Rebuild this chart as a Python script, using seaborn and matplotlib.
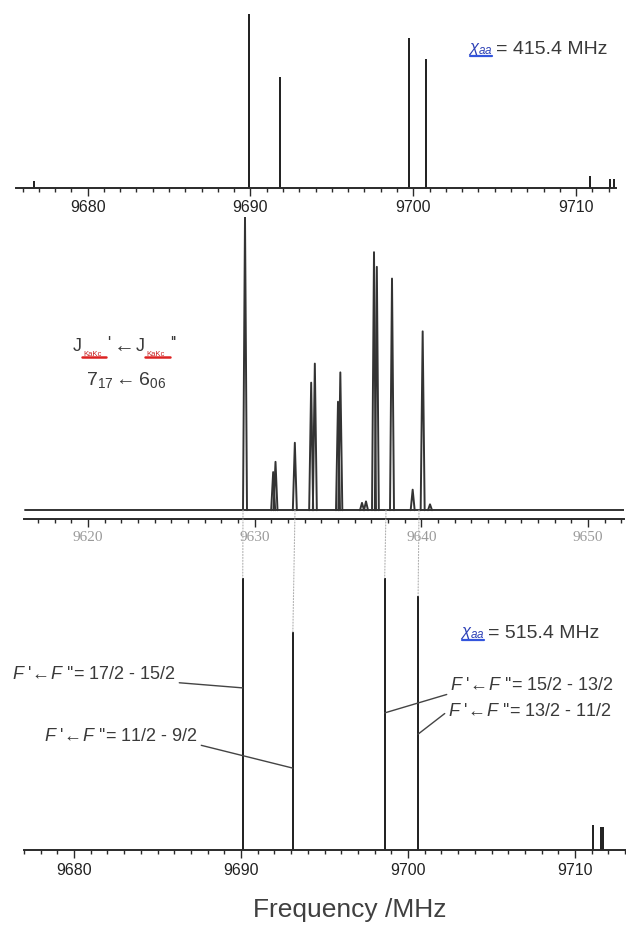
import pandas as pd
import matplotlib
matplotlib.use("Agg")
import matplotlib.pyplot as plt
import seaborn as sns
from matplotlib.patches import ConnectionPatch
from matplotlib.lines import Line2D

# simulated sticks, chi_aa = 415.4 MHz
top_freq = [9676.7, 9689.93, 9691.79, 9699.74, 9700.8, 9710.86, 9712.09, 9712.33]
top_int = [0.04, 1.0, 0.64, 0.86, 0.74, 0.07, 0.05, 0.05]
top_ticks = [9680, 9690, 9700, 9710]

# experimental trace (peak centres / heights)
mid_freq = [9629.42, 9631.11, 9631.25, 9632.41, 9633.39, 9633.61, 9635.0, 9635.14,
            9636.44, 9636.68, 9637.16, 9637.33, 9638.24, 9639.48, 9640.08, 9640.52]
mid_int = [1.0, 0.13, 0.165, 0.23, 0.435, 0.50, 0.37, 0.47,
           0.025, 0.03, 0.88, 0.83, 0.79, 0.07, 0.61, 0.02]
mid_ticks = [9620, 9630, 9640, 9650]

# simulated sticks, chi_aa = 515.4 MHz
bot_freq = [9690.1, 9693.1, 9698.6, 9700.6, 9711.1, 9711.55, 9711.7]
bot_int = [1.0, 0.80, 1.0, 0.934, 0.092, 0.085, 0.085]
bot_ticks = [9680, 9690, 9700, 9710]

# assigned components: (index in bot_freq, label)
assign_idx = [0, 1, 2, 3]
assign_labels = [r"$F$ '$\!\leftarrow\!F$ ''= 17/2 - 15/2",
                 r"$F$ '$\!\leftarrow\!F$ ''= 11/2 - 9/2",
                 r"$F$ '$\!\leftarrow\!F$ ''= 15/2 - 13/2",
                 r"$F$ '$\!\leftarrow\!F$ ''= 13/2 - 11/2"]
# matching positions on the experimental trace
link_mid = [9629.30, 9632.42, 9637.88, 9639.86]

sns.set_theme(style="white")
plt.rcParams["font.family"] = ["Liberation Sans", "DejaVu Sans"]
plt.rcParams["mathtext.fontset"] = "custom"
plt.rcParams["mathtext.rm"] = "Liberation Sans"
plt.rcParams["mathtext.it"] = "Liberation Sans:italic"

W, H = 626, 928
fig = plt.figure(figsize=(W / 100, H / 100), dpi=100)
grey = "#3a3a3a"


def box(x0, y0, x1, y1):
    return [x0 / W, 1 - y1 / H, (x1 - x0) / W, (y1 - y0) / H]


def put(x, y, s, **kw):
    kw.setdefault("color", grey)
    return fig.text(x / W, 1 - y / H, s, **kw)


def hline(x0, x1, y, **kw):
    fig.add_artist(Line2D([x0 / W, x1 / W], [1 - y / H, 1 - y / H],
                          transform=fig.transFigure, **kw))


def style_axis(ax, ticks, labels, **labelkw):
    sns.despine(ax=ax, left=True, top=True, right=True)
    ax.set_facecolor("none")
    ax.spines["bottom"].set_color("#2a2a2a")
    ax.spines["bottom"].set_linewidth(1.4)
    ax.set_yticks([])
    ax.set_xticks(ticks)
    ax.set_xticklabels(labels, **labelkw)
    ax.xaxis.set_minor_locator(matplotlib.ticker.MultipleLocator(1))
    ax.tick_params(axis="x", which="major", bottom=True, direction="out",
                   length=6, width=1, color="#2a2a2a", pad=2)
    ax.tick_params(axis="x", which="minor", bottom=True, direction="out",
                   length=3, width=1, color="#2a2a2a")
    ax.set_xlabel("")
    ax.set_ylabel("")


# top panel
ax_top = fig.add_axes(box(16, 15, 616, 189))
ax_top.vlines(top_freq, 0, top_int, color="#1e1e1e", lw=1.4)
ax_top.set_xlim(9675.6, 9712.45)
ax_top.set_ylim(0, 1)
style_axis(ax_top, top_ticks, [str(t) for t in top_ticks], fontsize=11.5, color="#222222")

# middle panel: experimental spectrum
half = 0.12
rows = [(9616.2, 0.0, -1), (9652.2, 0.0, -1)]
for k, (f, h) in enumerate(zip(mid_freq, mid_int)):
    rows += [(f - half, 0.0, k), (f, h, k), (f + half, 0.0, k)]
trace = pd.DataFrame(rows, columns=["freq", "intensity", "peak"])

ax_mid = fig.add_axes(box(24, 218, 624, 520))
sns.lineplot(data=trace, x="freq", y="intensity", units="peak", estimator=None,
             sort=False, color="#333333", lw=1.4, ax=ax_mid, legend=False)
ax_mid.set_xlim(9616.16, 9652.16)
ax_mid.set_ylim(-0.03, 1.0)
style_axis(ax_mid, mid_ticks, [str(t) for t in mid_ticks], fontsize=11,
           color="#9a9a9a", fontfamily="Liberation Serif")

# bottom panel
ax_bot = fig.add_axes(box(24, 579, 626, 851))
ax_bot.vlines(bot_freq, 0, bot_int, color="#1e1e1e", lw=1.4)
ax_bot.set_xlim(9677.0, 9713.05)
ax_bot.set_ylim(0, 1)
style_axis(ax_bot, bot_ticks, [str(t) for t in bot_ticks], fontsize=11.5, color="#222222")
ax_bot.tick_params(axis="x", which="major", pad=3)

# dotted links between trace and simulated sticks
for fm, i in zip(link_mid, assign_idx):
    con = ConnectionPatch(xyA=(fm, 0), coordsA=ax_mid.transData,
                          xyB=(bot_freq[i], bot_int[i]), coordsB=ax_bot.transData,
                          color="#b0b0b0", lw=0.8, ls=":")
    fig.add_artist(con)

# leader labels
leader_h = [0.596, 0.301, 0.504, 0.426]
text_xy = [(12, 675), (44, 737), (450, 686), (448, 712)]
relpos = [(1, 0), (1, 0), (0, 0), (0, 0.5)]
for i, lab, hh, (tx, ty), rp in zip(assign_idx, assign_labels, leader_h, text_xy, relpos):
    ax_bot.annotate(lab, xy=(bot_freq[i], hh), xycoords="data",
                    xytext=(tx, H - ty), textcoords="figure pixels",
                    ha="left", va="center", fontsize=13, color=grey,
                    annotation_clip=False,
                    arrowprops=dict(arrowstyle="-", color="#444444", lw=1.0,
                                    shrinkA=0, shrinkB=0, relpos=rp))

# chi labels
for y, val in [(49, "= 415.4 MHz"), (633, "= 515.4 MHz")]:
    x0 = 470 if y < 100 else 462
    put(x0 + 23, y, r"$\chi_{aa}$", ha="right", va="center", fontsize=12, color="#2b3fb5")
    hline(x0, x0 + 22, y + 8, color="#3355dd", lw=1.6)
    put(x0 + 26, y, val, ha="left", va="center", fontsize=14)

# rotational transition label
put(73, 347, "J", ha="left", va="center", fontsize=13)
put(83, 354, "KaKc", ha="left", va="center", fontsize=5.5, color="#c82020")
hline(82, 106, 358, color="#dd2222", lw=1.8)
put(107, 343, "'", ha="left", va="center", fontsize=12)
put(114, 347, "\u2190", ha="left", va="center", fontsize=15)
put(136, 347, "J", ha="left", va="center", fontsize=13)
put(146, 354, "KaKc", ha="left", va="center", fontsize=5.5, color="#c82020")
hline(145, 170, 358, color="#dd2222", lw=1.8)
put(170, 343, "''", ha="left", va="center", fontsize=12)
put(126, 380, r"$7_{17}\leftarrow 6_{06}$", ha="center", va="center", fontsize=14)

put(350, 910, "Frequency /MHz", ha="center", va="center", fontsize=19, color="#404040")

fig.savefig("out.png", dpi=100)
